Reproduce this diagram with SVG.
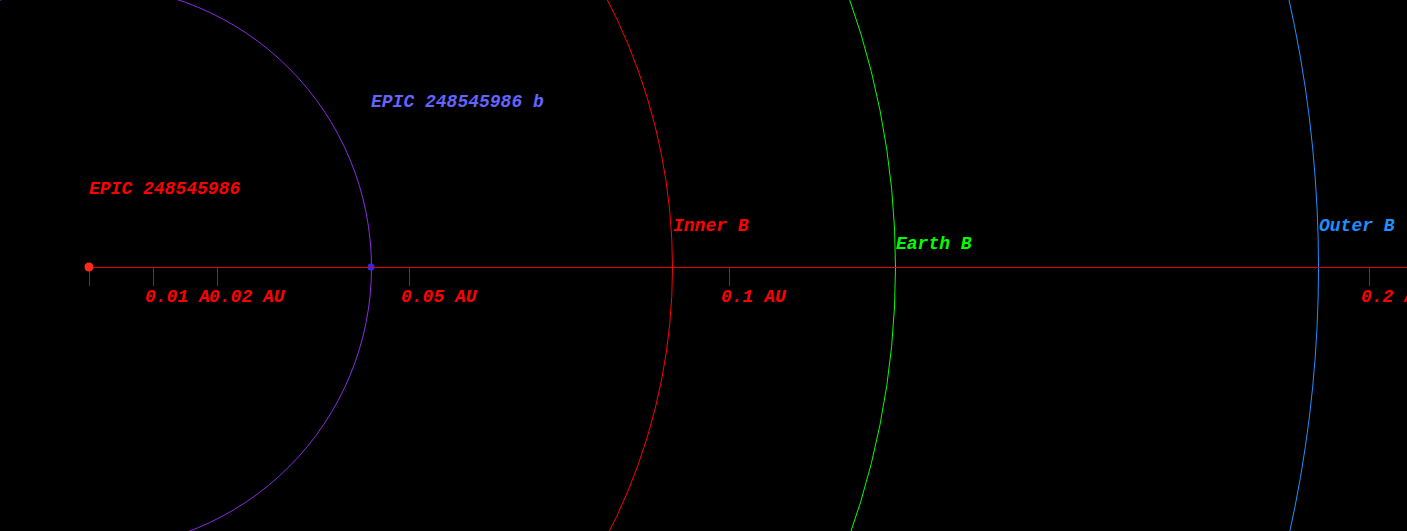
<svg xmlns="http://www.w3.org/2000/svg" width="1407" height="531" viewBox="0 0 1407 531">
<style>
text{font-family:"Liberation Mono","Courier New",monospace;font-size:18px;font-style:italic;font-weight:bold}
.orbit{fill:none;stroke-width:1}
.tick{stroke:#e00000;stroke-width:1}
.tl{fill:#ff0000}
.bg{fill:#000}
</style>
<rect width="1407" height="531" fill="#000"/>
<g id="orbits">
<circle id="orbit-b" class="orbit" cx="89.5" cy="267.5" r="282" stroke="#8a2be2"/>
<circle id="orbit-inner" class="orbit" cx="89.5" cy="267.5" r="583" stroke="#ff0000"/>
<circle id="orbit-earth" class="orbit" cx="89.5" cy="267.5" r="806" stroke="#00ff00"/>
<circle id="orbit-outer" class="orbit" cx="89.5" cy="267.5" r="1229" stroke="#1e90ff"/>
</g>
<g id="connectors">
<line x1="89" y1="267.5" x2="1407" y2="267.5" stroke="#e00000"/>
<line class="tick" x1="89.5" y1="267" x2="89.5" y2="286"/>
<line class="tick" x1="153.5" y1="267" x2="153.5" y2="286"/>
<line class="tick" x1="217.5" y1="267" x2="217.5" y2="286"/>
<line class="tick" x1="409.5" y1="267" x2="409.5" y2="286"/>
<line class="tick" x1="729.5" y1="267" x2="729.5" y2="286"/>
<line class="tick" x1="1369.5" y1="267" x2="1369.5" y2="286"/>
</g>
<g id="scale-labels">
<rect class="bg" x="145" y="286" width="76" height="21"/>
<text class="tl" x="145" y="302">0.01 AU</text>
<rect class="bg" x="209" y="286" width="76" height="21"/>
<text class="tl" x="209" y="302">0.02 AU</text>
<text class="tl" x="401" y="302">0.05 AU</text>
<text class="tl" x="721" y="302">0.1 AU</text>
<text class="tl" x="1361" y="302">0.2 AU</text>
</g>
<g id="star">
<circle cx="89" cy="267" r="4.5" fill="#ff2a1a"/>
<text x="89" y="194" fill="#ff0000">EPIC 248545986</text>
</g>
<g id="planet-b">
<circle cx="371" cy="267" r="3.5" fill="#2a2aff"/>
<line x1="366" y1="267.5" x2="377" y2="267.5" stroke="#e00000"/>
<text x="371" y="107" fill="#6464ff">EPIC 248545986 b</text>
</g>
<g id="zone-inner">
<text x="673" y="231" fill="#ff0000">Inner B</text>
</g>
<g id="zone-earth">
<text x="896" y="249" fill="#00ff00">Earth B</text>
</g>
<g id="zone-outer">
<text x="1319" y="231" fill="#1e90ff">Outer B</text>
</g>
</svg>
